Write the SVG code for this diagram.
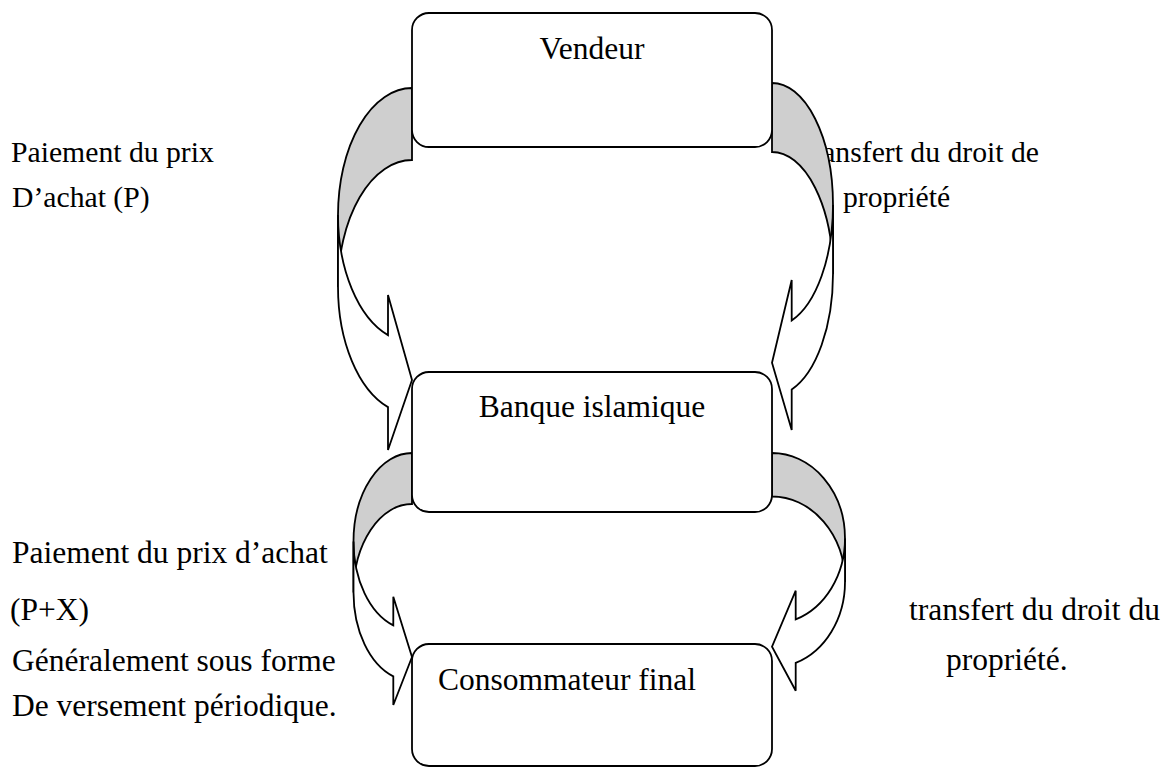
<svg xmlns="http://www.w3.org/2000/svg" width="1165" height="769" viewBox="0 0 1165 769">
  <style>
    .lbl { font-family: "Liberation Serif", "Times New Roman", serif; font-size: 31.5px; fill: #000; }
    .sm { font-size: 29.7px; }
    .box { fill: #fff; stroke: #000; stroke-width: 1.8; }
    .back { fill: #cfcfcf; stroke: #000; stroke-width: 1.8; stroke-linejoin: miter; }
    .front { fill: #fff; stroke: #000; stroke-width: 1.8; stroke-linejoin: miter; }
  </style>
  <rect width="1165" height="769" fill="#fff"/>

  <!-- side labels (drawn first so the curved arrows sit on top of them) -->
  <g id="labels">
    <text class="lbl sm" x="11" y="162">Paiement du prix</text>
    <text class="lbl sm" x="12" y="207">D’achat (P)</text>
    <text class="lbl sm" x="1039" y="162" text-anchor="end">ansfert du droit de</text>
    <text class="lbl sm" x="843" y="207">propriété</text>
    <text class="lbl" x="12" y="563">Paiement du prix d’achat</text>
    <text class="lbl" x="10" y="620">(P+X)</text>
    <text class="lbl" x="12" y="671">Généralement sous forme</text>
    <text class="lbl" x="12" y="716">De versement périodique.</text>
    <text class="lbl" x="1160" y="620" text-anchor="end">transfert du droit du</text>
    <text class="lbl" x="946" y="670">propriété.</text>
  </g>

  <!-- curved block arrows between the three parties -->
  <g id="connectors">
    <g id="arrow-vendeur-banque">
      <path class="back" d="M412,88 A74,127 0 0 0 338,215 L338,287 A74,127 0 0 1 412,160 Z"/>
      <path class="front" d="M338,215 A74,127 0 0 0 388,335.1 L388,295 L412,380 L388,450 L388,407.1 A74,127 0 0 1 338,287 Z"/>
    </g>
    <g id="arrow-banque-vendeur">
      <path class="back" d="M772,83 A61,122 0 0 1 833,205 L833,274 A61,122 0 0 0 772,152 Z"/>
      <path class="front" d="M833,205 A61,122 0 0 1 791.7,320.5 L791.7,280 L772,362.7 L791.7,430 L791.7,389.5 A61,122 0 0 0 833,274 Z"/>
    </g>
    <g id="arrow-consommateur-banque">
      <path class="back" d="M412,453 A58.5,88.5 0 0 0 353.5,541.5 L353.5,592.5 A58.5,88.5 0 0 1 412,504 Z"/>
      <path class="front" d="M353.5,541.5 A58.5,88.5 0 0 0 393.3,625.4 L393.3,596.7 L412,657 L393.3,705 L393.3,676.4 A58.5,88.5 0 0 1 353.5,592.5 Z"/>
    </g>
    <g id="arrow-banque-consommateur">
      <path class="back" d="M772,453 A73,85.5 0 0 1 845,538.5 L845,582 A73,85.5 0 0 0 772,496.5 Z"/>
      <path class="front" d="M845,538.5 A73,85.5 0 0 1 795.7,619.4 L795.7,590.7 L772,646.7 L795.7,690.7 L795.7,662.9 A73,85.5 0 0 0 845,582 Z"/>
    </g>
  </g>

  <g id="vendeur">
    <rect class="box" x="412" y="13" width="360" height="134" rx="17"/>
    <text class="lbl" x="592" y="59" text-anchor="middle">Vendeur</text>
  </g>
  <g id="banque">
    <rect class="box" x="412" y="372" width="360" height="140" rx="17"/>
    <text class="lbl" x="592" y="417" text-anchor="middle">Banque islamique</text>
  </g>
  <g id="consommateur">
    <rect class="box" x="412" y="644" width="360" height="122" rx="17"/>
    <text class="lbl" x="567" y="690" text-anchor="middle">Consommateur final</text>
  </g>
</svg>
